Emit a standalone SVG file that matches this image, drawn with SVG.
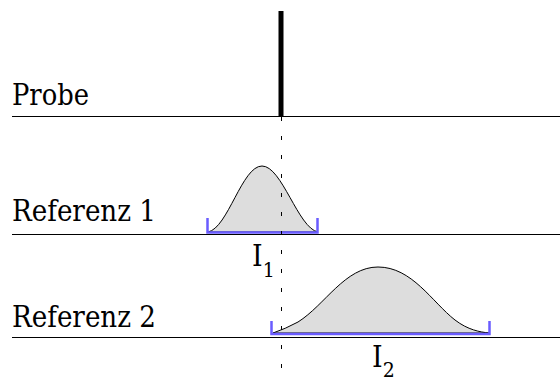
<svg xmlns="http://www.w3.org/2000/svg" width="560" height="381" viewBox="0 0 560 381">
<style>
text{font-family:"DejaVu Serif Condensed","DejaVu Serif",serif;fill:#000}
.lbl{font-size:30px}
.sub{font-size:21px}
.base{stroke:#000;stroke-width:1.2;fill:none}
.curve{fill:#dddddd;stroke:#000;stroke-width:1}
.interval{fill:none;stroke:#6a5cff;stroke-width:2.5}
</style>
<rect width="560" height="381" fill="#fff"/>
<g id="probe">
<line class="base" x1="12" y1="116.5" x2="560" y2="116.5"/>
<rect x="278.5" y="11" width="5" height="106" fill="#000"/>
<text class="lbl" x="12" y="105" textLength="77" lengthAdjust="spacingAndGlyphs">Probe</text>
</g>
<g id="referenz1">
<path class="curve" d="M208,232 C228,228 242,166 262,166 C282,166 298,228 318,232 Z"/>
<path class="interval" d="M207.5,218 V232.5 H317.5 V218"/>
<line class="base" x1="12" y1="234.5" x2="560" y2="234.5"/>
<text class="lbl" x="12" y="221" textLength="144" lengthAdjust="spacingAndGlyphs">Referenz 1</text>
<text class="lbl" x="252" y="266">I<tspan class="sub" y="277">1</tspan></text>
</g>
<g id="referenz2">
<path class="curve" d="M273,333 Q285,329 298,322 C325,305 345,267 378,267 C412,267 432,302 455,320 C468,330 480,332 489,333 Z"/>
<path class="interval" d="M271.5,321 V334 H489.5 V321"/>
<line class="base" x1="12" y1="337.5" x2="560" y2="337.5"/>
<text class="lbl" x="12" y="327" textLength="144" lengthAdjust="spacingAndGlyphs">Referenz 2</text>
<text class="lbl" x="372" y="367">I<tspan class="sub" y="377">2</tspan></text>
</g>
<g id="connectors">
<line x1="281.5" y1="117" x2="281.5" y2="381" stroke="#000" stroke-width="1" stroke-dasharray="4,15"/>
</g>
</svg>
